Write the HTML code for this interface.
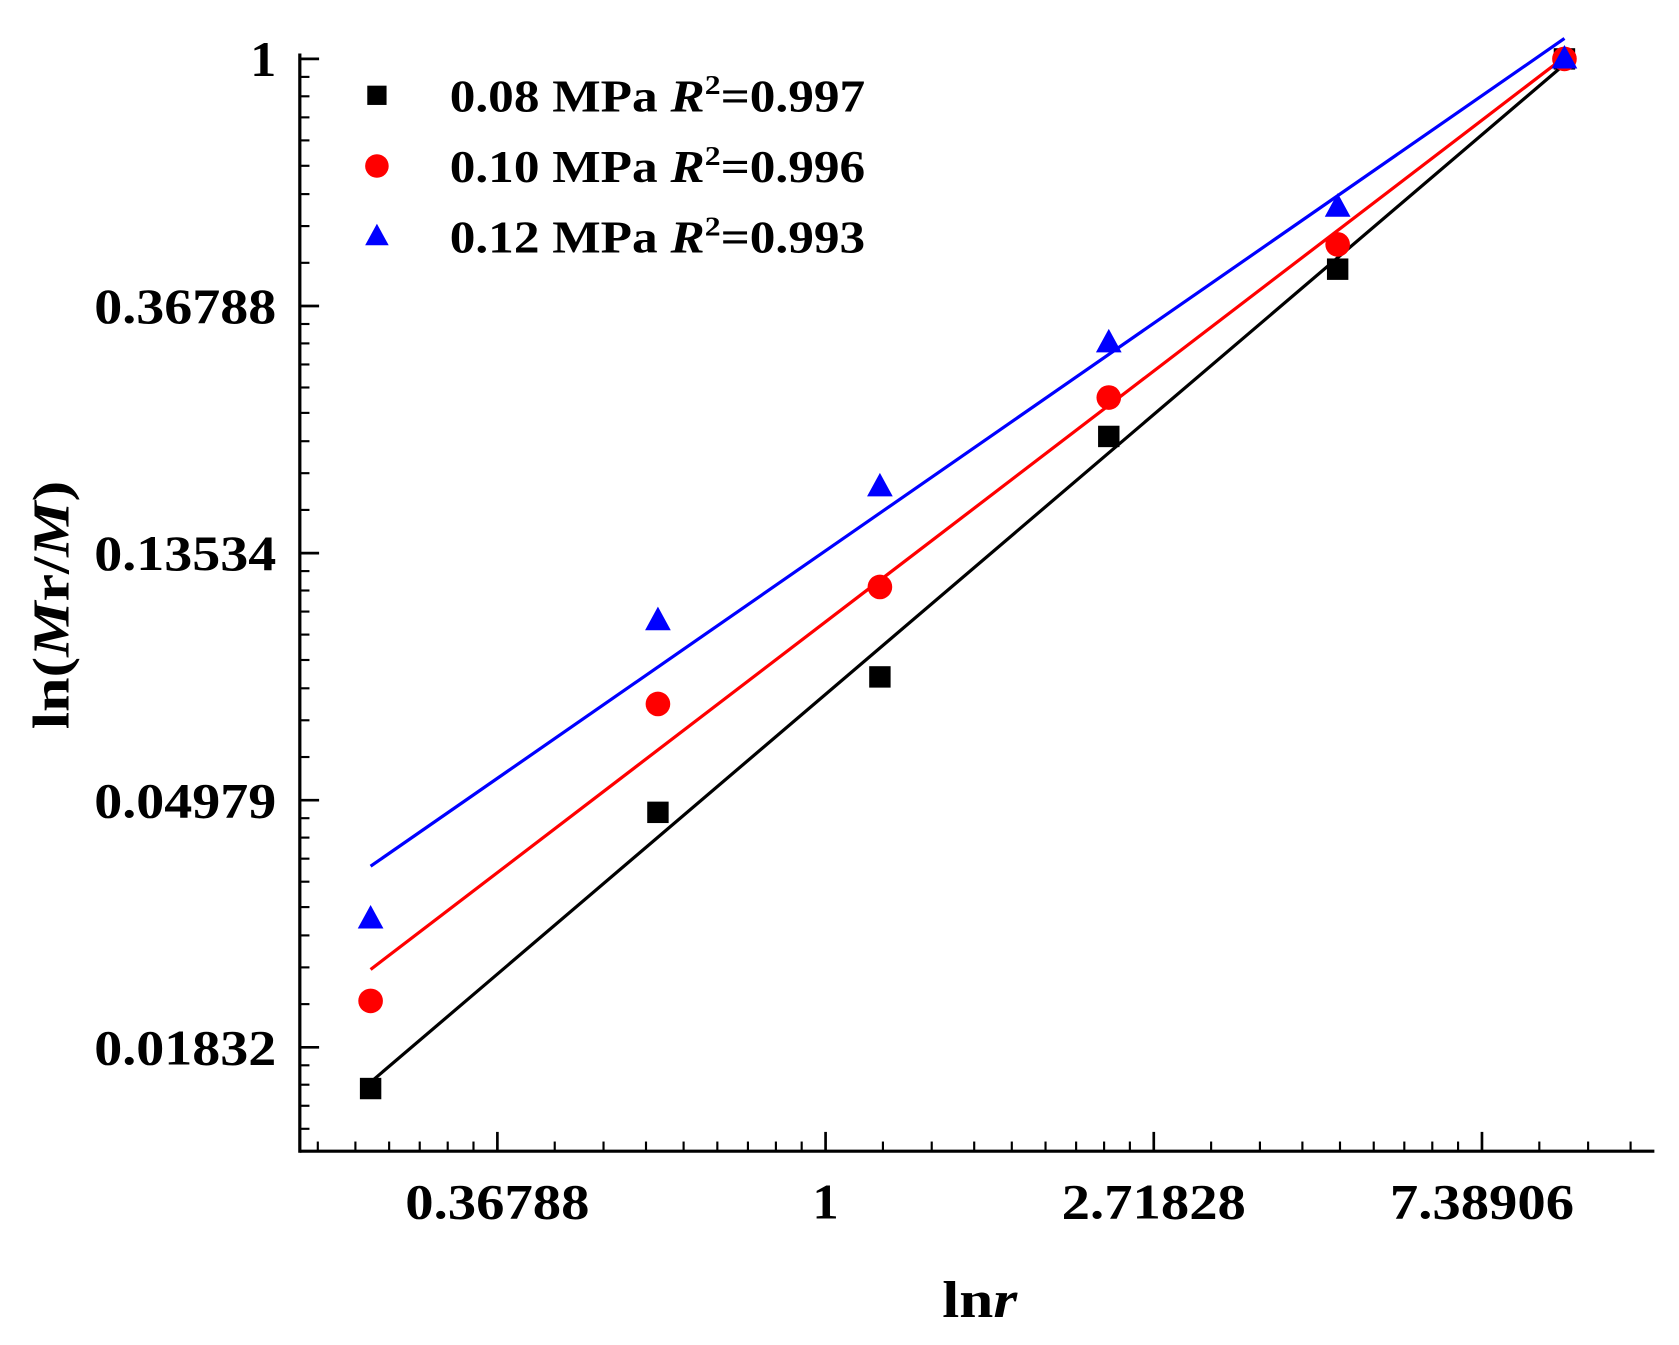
<!DOCTYPE html>
<html><head><meta charset="utf-8"><style>
html,body{margin:0;padding:0;background:#fff;}
svg{display:block;}
text{font-family:"Liberation Serif",serif;font-weight:bold;fill:#000;}
</style></head><body>
<svg id="chart" width="1679" height="1345" viewBox="0 0 1568 1256" preserveAspectRatio="none" xmlns="http://www.w3.org/2000/svg">
<g id="axes"></g>
<g id="fits"></g>
<g id="marks"></g>
<g id="legend">
  <rect x="343" y="80" width="18" height="18" fill="#000"/>
  <text x="420" y="104" font-size="42" textLength="388" lengthAdjust="spacingAndGlyphs">0.08 MPa <tspan font-style="italic">R</tspan><tspan font-size="26" dy="-16">2</tspan><tspan dy="16">=0.997</tspan></text>
  <circle cx="352" cy="155" r="11" fill="#f00"/>
  <text x="420" y="170" font-size="42" textLength="388" lengthAdjust="spacingAndGlyphs">0.10 MPa <tspan font-style="italic">R</tspan><tspan font-size="26" dy="-16">2</tspan><tspan dy="16">=0.996</tspan></text>
  <polygon points="352,209 341,229 363,229" fill="#00f"/>
  <text x="420" y="236" font-size="42" textLength="388" lengthAdjust="spacingAndGlyphs">0.12 MPa <tspan font-style="italic">R</tspan><tspan font-size="26" dy="-16">2</tspan><tspan dy="16">=0.993</tspan></text>
</g>
<text transform="translate(64,565) rotate(-90)" x="-116" font-size="48" textLength="232" lengthAdjust="spacingAndGlyphs">ln(<tspan font-style="italic">M</tspan>r/<tspan font-style="italic">M</tspan>)</text>
<text x="880" y="1230" font-size="48" textLength="70" lengthAdjust="spacingAndGlyphs">ln<tspan font-style="italic">r</tspan></text>
</svg>
<script>
const rValues = [0.25, 0.6, 1.18, 2.37, 4.76, 9.5];
const series008 = [0.0155, 0.0474, 0.082, 0.217, 0.427, 1];
const series010 = [0.0221, 0.0735, 0.118, 0.254, 0.472, 1];
const series012 = [0.0308, 0.103, 0.177, 0.317, 0.549, 1];
const xTickLabels = ["0.36788", "1", "2.71828", "7.38906"];
const yTickLabels = ["1", "0.36788", "0.13534", "0.04979", "0.01832"];

const NS = "http://www.w3.org/2000/svg";
const X0 = 280, X1 = 1545, Y0 = 50, Y1 = 1075;
function xs(v){ return 771 + Math.log(v) * 306.5; }
function ys(v){ return 55 - Math.log(v) * 230.75; }
function mk(tag, attrs, parent){
  const e = document.createElementNS(NS, tag);
  for (const k in attrs) e.setAttribute(k, attrs[k]);
  parent.appendChild(e); return e;
}
const axes = document.getElementById('axes');
let l = mk('line', {x1:X0, y1:Y1, x2:X1, y2:Y1, stroke:'#000', 'stroke-width':3}, axes);


l = mk('line', {x1:X0, y1:Y0, x2:X0, y2:Y1+1.5, stroke:'#000', 'stroke-width':3}, axes);



for (let k = -2; k <= 2; k++) {
  const base = Math.exp(k);
  const px = xs(base);
  if (px >= X0 && px <= X1) {
    const t = mk('line', {x1:px, y1:Y1, x2:px, y2:Y1-18, stroke:'#000', 'stroke-width':2.5}, axes);
    
    
  }
  for (let i = 1; i <= 8; i++) {
    const v = base * (1 + i * (Math.E - 1) / 9);
    const mx = xs(v);
    if (mx > X0 + 2 && mx <= X1) {
      const t = mk('line', {x1:mx, y1:Y1, x2:mx, y2:Y1-9, stroke:'#000', 'stroke-width':2}, axes);
      
      
    }
  }
}
xTickLabels.forEach(s => {
  const w = s.length * 172 / 7;
  const t = mk('text', {x:xs(parseFloat(s)) - w/2, y:1138, 'font-size':46, textLength:w, lengthAdjust:'spacingAndGlyphs'}, axes);
  t.textContent = s;
  
  
});
for (let k = -5; k <= 0; k++) {
  const base = Math.exp(k);
  const py = ys(base);
  if (py >= Y0 && py <= Y1) {
    const t = mk('line', {x1:X0, y1:py, x2:X0+18, y2:py, stroke:'#000', 'stroke-width':2.5}, axes);
    
    
  }
  if (k >= 0) continue;
  for (let i = 1; i <= 8; i++) {
    const v = base * (1 + i * (Math.E - 1) / 9);
    const my = ys(v);
    if (my >= Y0 + 2 && my < Y1 - 2) {
      const t = mk('line', {x1:X0, y1:my, x2:X0+9, y2:my, stroke:'#000', 'stroke-width':2}, axes);
      
      
    }
  }
}
yTickLabels.forEach(s => {
  const w = s.length * 170 / 7;
  const t = mk('text', {x:258 - w, y:ys(parseFloat(s))+16, 'font-size':46, textLength:w, lengthAdjust:'spacingAndGlyphs'}, axes);
  t.textContent = s;
  
  
});

const fits = document.getElementById('fits');
const marks = document.getElementById('marks');
const all = [[series008, '#000', 'square', '008'], [series010, '#f00', 'circle', '010'], [series012, '#00f', 'triangle', '012']];
all.forEach(([vals, col, shape, name]) => {
  const lx = rValues.map(Math.log), ly = vals.map(Math.log);
  const n = lx.length;
  const mx = lx.reduce((a,b)=>a+b)/n, my = ly.reduce((a,b)=>a+b)/n;
  let sxy = 0, sxx = 0;
  for (let i = 0; i < n; i++) { sxy += (lx[i]-mx)*(ly[i]-my); sxx += (lx[i]-mx)**2; }
  const b = sxy / sxx, a = my - b * mx;
  const xa = rValues[0], xb = rValues[n-1];
  const f = mk('line', {x1:xs(xa), y1:ys(Math.exp(a + b*Math.log(xa))), x2:xs(xb), y2:ys(Math.exp(a + b*Math.log(xb))), stroke:col, 'stroke-width':3}, fits);
  
  
  rValues.forEach((r, i) => {
    const px = xs(r), py = ys(vals[i]);
    let m;
    if (shape === 'square') m = mk('rect', {x:px-10, y:py-10, width:20, height:20, fill:col}, marks);
    else if (shape === 'circle') m = mk('circle', {cx:px, cy:py, r:11.5, fill:col}, marks);
    else m = mk('polygon', {points:`${px},${py-13} ${px-12},${py+9} ${px+12},${py+9}`, fill:col}, marks);
    
    
  });
});
</script>
</body></html>
